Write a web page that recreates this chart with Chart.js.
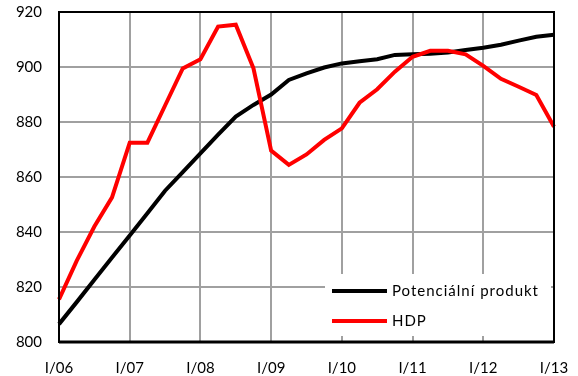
<!DOCTYPE html>
<html>
<head>
<meta charset="utf-8">
<script src="https://cdn.jsdelivr.net/npm/chart.js@4.4.0/dist/chart.umd.min.js"></script>
<style>
  html, body { margin: 0; padding: 0; background: #fff; }
  #wrap { width: 578px; height: 376px; }
</style>
</head>
<body>
<div id="wrap"><canvas id="c" width="578" height="376"></canvas></div>
<script>
// quarters I/06 .. I/13
var quarters = [
  "I/06","II/06","III/06","IV/06",
  "I/07","II/07","III/07","IV/07",
  "I/08","II/08","III/08","IV/08",
  "I/09","II/09","III/09","IV/09",
  "I/10","II/10","III/10","IV/10",
  "I/11","II/11","III/11","IV/11",
  "I/12","II/12","III/12","IV/12",
  "I/13"
];
// potential output
var potencialni = [
  806.5, 814.5, 822.6, 830.7,
  838.7, 846.8, 855.0, 861.8,
  868.6, 875.4, 882.0, 886.2,
  890.0, 895.3, 897.7, 899.8,
  901.3, 902.1, 902.8, 904.4,
  904.6, 904.8, 905.3, 906.2,
  907.0, 908.1, 909.6, 911.0,
  911.7
];
// GDP
var hdp = [
  815.5, 829.5, 842.0, 852.6,
  872.5, 872.5, 886.0, 899.5,
  902.8, 914.7, 915.4, 899.5,
  869.6, 864.4, 868.2, 873.5,
  877.7, 887.0, 891.9, 898.3,
  903.7, 905.9, 905.9, 904.6,
  900.4, 895.7, 892.8, 889.8,
  878.3
];
var yMin = 800, yMax = 920, yStep = 20;
var legendNames = ["Potenciální produkt", "HDP"];
var lineColors = ["#000000", "#ff0000"];

var fontFamily = "Lato, 'Open Sans', sans-serif";

// frame around plot + legend box inside the plot
var framePlugin = {
  id: "frame",
  afterDraw: function(chart) {
    var ctx = chart.ctx;
    var a = chart.chartArea;
    ctx.save();
    // legend box (white, covers grid)
    var lx = 325, ly = 274, lw = 226, lh = 62;
    ctx.fillStyle = "#fff";
    ctx.fillRect(lx, ly, lw, lh);
    ctx.lineWidth = 4;
    ctx.font = "15px " + fontFamily;
    ctx.letterSpacing = "1px";
    ctx.textBaseline = "middle";
    for (var i = 0; i < legendNames.length; i++) {
      var yy = 291 + i * 30;
      ctx.strokeStyle = lineColors[i];
      ctx.beginPath();
      ctx.moveTo(332, yy);
      ctx.lineTo(387, yy);
      ctx.stroke();
      ctx.fillStyle = "#000";
      ctx.fillText(legendNames[i], 392, yy);
    }
    // frame
    ctx.strokeStyle = "#000";
    ctx.lineWidth = 2;
    ctx.strokeRect(a.left, a.top, a.right - a.left, a.bottom - a.top);
    ctx.lineWidth = 3;
    ctx.beginPath();
    ctx.moveTo(a.left, a.bottom);
    ctx.lineTo(a.right, a.bottom);
    ctx.stroke();
    ctx.restore();
  }
};

var chart = new Chart(document.getElementById("c"), {
  type: "line",
  data: {
    labels: quarters,
    datasets: [
      {
        label: legendNames[0],
        data: potencialni,
        borderColor: lineColors[0],
        borderWidth: 4,
        pointRadius: 0,
        tension: 0,
        order: 2
      },
      {
        label: legendNames[1],
        data: hdp,
        borderColor: lineColors[1],
        borderWidth: 4,
        pointRadius: 0,
        tension: 0,
        order: 1
      }
    ]
  },
  options: {
    responsive: false,
    animation: false,
    events: [],
    layout: { padding: { left: 0, right: 24, top: 12, bottom: 0 } },
    plugins: {
      legend: { display: false },
      tooltip: { enabled: false }
    },
    scales: {
      x: {
        offset: false,
        grid: {
          drawTicks: true,
          tickLength: 17,
          tickColor: "rgba(0,0,0,0)",
          lineWidth: 2,
          color: function(c) {
            return (c.index % 4 === 0) ? "#a0a0a0" : "rgba(0,0,0,0)";
          }
        },
        border: { display: false },
        ticks: {
          autoSkip: false,
          maxRotation: 0,
          padding: 0,
          color: "#000",
          font: { family: fontFamily, size: 15 },
          callback: function(v, i) {
            return (i % 4 === 0) ? quarters[i] : "";
          }
        },
        afterFit: function(s) { s.height = 34; }
      },
      y: {
        min: yMin,
        max: yMax,
        grid: {
          drawTicks: true,
          tickLength: 17,
          tickColor: "rgba(0,0,0,0)",
          lineWidth: 2,
          color: "#a0a0a0"
        },
        border: { display: false },
        ticks: {
          stepSize: yStep,
          padding: 0,
          color: "#000",
          font: { family: fontFamily, size: 15 }
        },
        afterFit: function(s) { s.width = 59; }
      }
    }
  },
  plugins: [framePlugin]
});
</script>
</body>
</html>
